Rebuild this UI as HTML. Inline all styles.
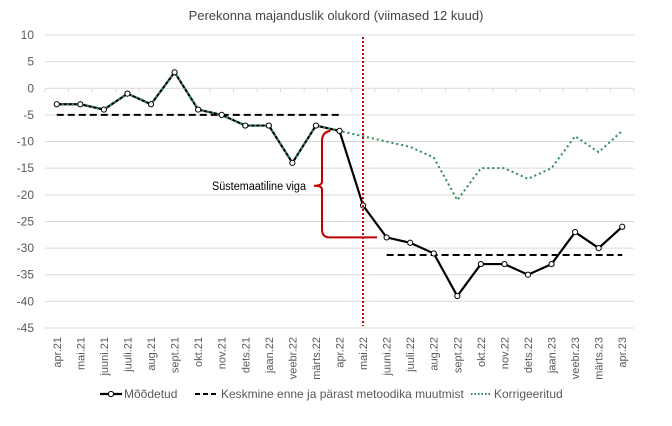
<!DOCTYPE html>
<html><head><meta charset="utf-8"><style>
body{margin:0;background:#fff;font-family:"Liberation Sans",sans-serif}
svg text{font-family:"Liberation Sans",sans-serif}
</style></head><body>
<svg id="c" width="672" height="421" viewBox="0 0 672 421">
<text x="336" y="20" text-anchor="middle" font-size="13" fill="#444">Perekonna majanduslik olukord (viimased 12 kuud)</text>
</svg>
<script>
const categories=["apr.21","mai.21","juuni.21","juuli.21","aug.21","sept.21","okt.21","nov.21","dets.21","jaan.22","veebr.22","märts.22","apr.22","mai.22","juuni.22","juuli.22","aug.22","sept.22","okt.22","nov.22","dets.22","jaan.23","veebr.23","märts.23","apr.23"];
const measured=[-3,-3,-4,-1,-3,3,-4,-5,-7,-7,-14,-7,-8,-22,-28,-29,-31,-39,-33,-33,-35,-33,-27,-30,-26];
const corrected=[-3,-3,-4,-1,-3,3,-4,-5,-7,-7,-14,-7,-8,-9,-10,-11,-13,-21,-15,-15,-17,-15,-9,-12,-8];
const avgBefore=-5, avgAfter=-31.3;
const yTicks=[10,5,0,-5,-10,-15,-20,-25,-30,-35,-40,-45];
const svg=document.getElementById('c');const NS='http://www.w3.org/2000/svg';
const L=45,R=634,T=35,B=328,yMax=10,yMin=-45;
const bw=(R-L)/categories.length;
const x=i=>L+bw*(i+0.5);
const y=v=>T+(yMax-v)/(yMax-yMin)*(B-T);
function mk(t,a,parent){const e=document.createElementNS(NS,t);for(const k in a)e.setAttribute(k,a[k]);(parent||svg).appendChild(e);return e;}
yTicks.forEach(v=>{
 const g=mk('line',{x1:L,x2:R,y1:y(v),y2:y(v),stroke:'#d9d9d9','stroke-width':1});
 
 
 const t=mk('text',{x:34,y:y(v)+4,'text-anchor':'end','font-size':12,fill:'#595959'});t.textContent=v;
 
 
});
for(let i=0;i<=categories.length;i++){const tk=mk('line',{x1:L+bw*i,x2:L+bw*i,y1:y(0),y2:y(0)+4,stroke:'#d9d9d9'});
 
 }
categories.forEach((c,i)=>{
 const t=mk('text',{transform:`translate(${x(i)+4},337) rotate(-90)`,'text-anchor':'end','font-size':11,fill:'#595959'});t.textContent=c;
 
 
});
const av1=mk('line',{x1:x(0),x2:x(12),y1:y(avgBefore),y2:y(avgBefore),stroke:'#000','stroke-width':2,'stroke-dasharray':'7,4'});


const av2=mk('line',{x1:x(14),x2:x(24),y1:y(avgAfter),y2:y(avgAfter),stroke:'#000','stroke-width':2,'stroke-dasharray':'7,4'});


const pm=mk('polyline',{points:measured.map((v,i)=>x(i)+','+y(v)).join(' '),fill:'none',stroke:'#000','stroke-width':2.2});


const pc=mk('polyline',{points:corrected.map((v,i)=>x(i)+','+y(v)).join(' '),fill:'none',stroke:'#2e8b57','stroke-width':2,'stroke-dasharray':'2,3'});


measured.forEach((v,i)=>{const p=mk('circle',{cx:x(i),cy:y(v),r:2.6,fill:'#fff',stroke:'#000','stroke-width':1});
 
 });
const vl=mk('line',{x1:x(13),x2:x(13),y1:37,y2:326,stroke:'#c00000','stroke-width':2,'stroke-dasharray':'2,2'});


const br=mk('path',{d:`M${x(12)-9},${y(-8)} Q322,${y(-8)+1} 322,${y(-10)} L322,${y(-17.5)} Q322,${y(-18.3)} 314,${y(-18.3)} Q322,${y(-18.3)} 322,${y(-19)} L322,${y(-26.5)} Q322,${y(-28)} 330,${y(-28)} L${x(13)+14},${y(-28)}`,fill:'none',stroke:'#c00000','stroke-width':2});


const lt=mk('text',{x:212,y:y(-18.3)+4,'font-size':11.5,fill:'#000',textLength:94,lengthAdjust:'spacingAndGlyphs'});lt.textContent='Süstemaatiline viga';


// legend
const lg=mk('g',{});


mk('line',{x1:100,x2:122,y1:394,y2:394,stroke:'#000','stroke-width':2.2},lg);
mk('circle',{cx:111,cy:394,r:2.6,fill:'#fff',stroke:'#000'},lg);
let t1=mk('text',{x:124,y:398,'font-size':12,fill:'#595959'},lg);t1.textContent='Mõõdetud';


mk('line',{x1:195,x2:218,y1:394,y2:394,stroke:'#000','stroke-width':2,'stroke-dasharray':'5,3'},lg);
let t2=mk('text',{x:221,y:398,'font-size':12,fill:'#595959'},lg);t2.textContent='Keskmine enne ja pärast metoodika muutmist';


mk('line',{x1:471,x2:492,y1:394,y2:394,stroke:'#2e8b57','stroke-width':2,'stroke-dasharray':'1.5,2'},lg);
let t3=mk('text',{x:494,y:398,'font-size':12,fill:'#595959'},lg);t3.textContent='Korrigeeritud';


</script>
</body></html>
